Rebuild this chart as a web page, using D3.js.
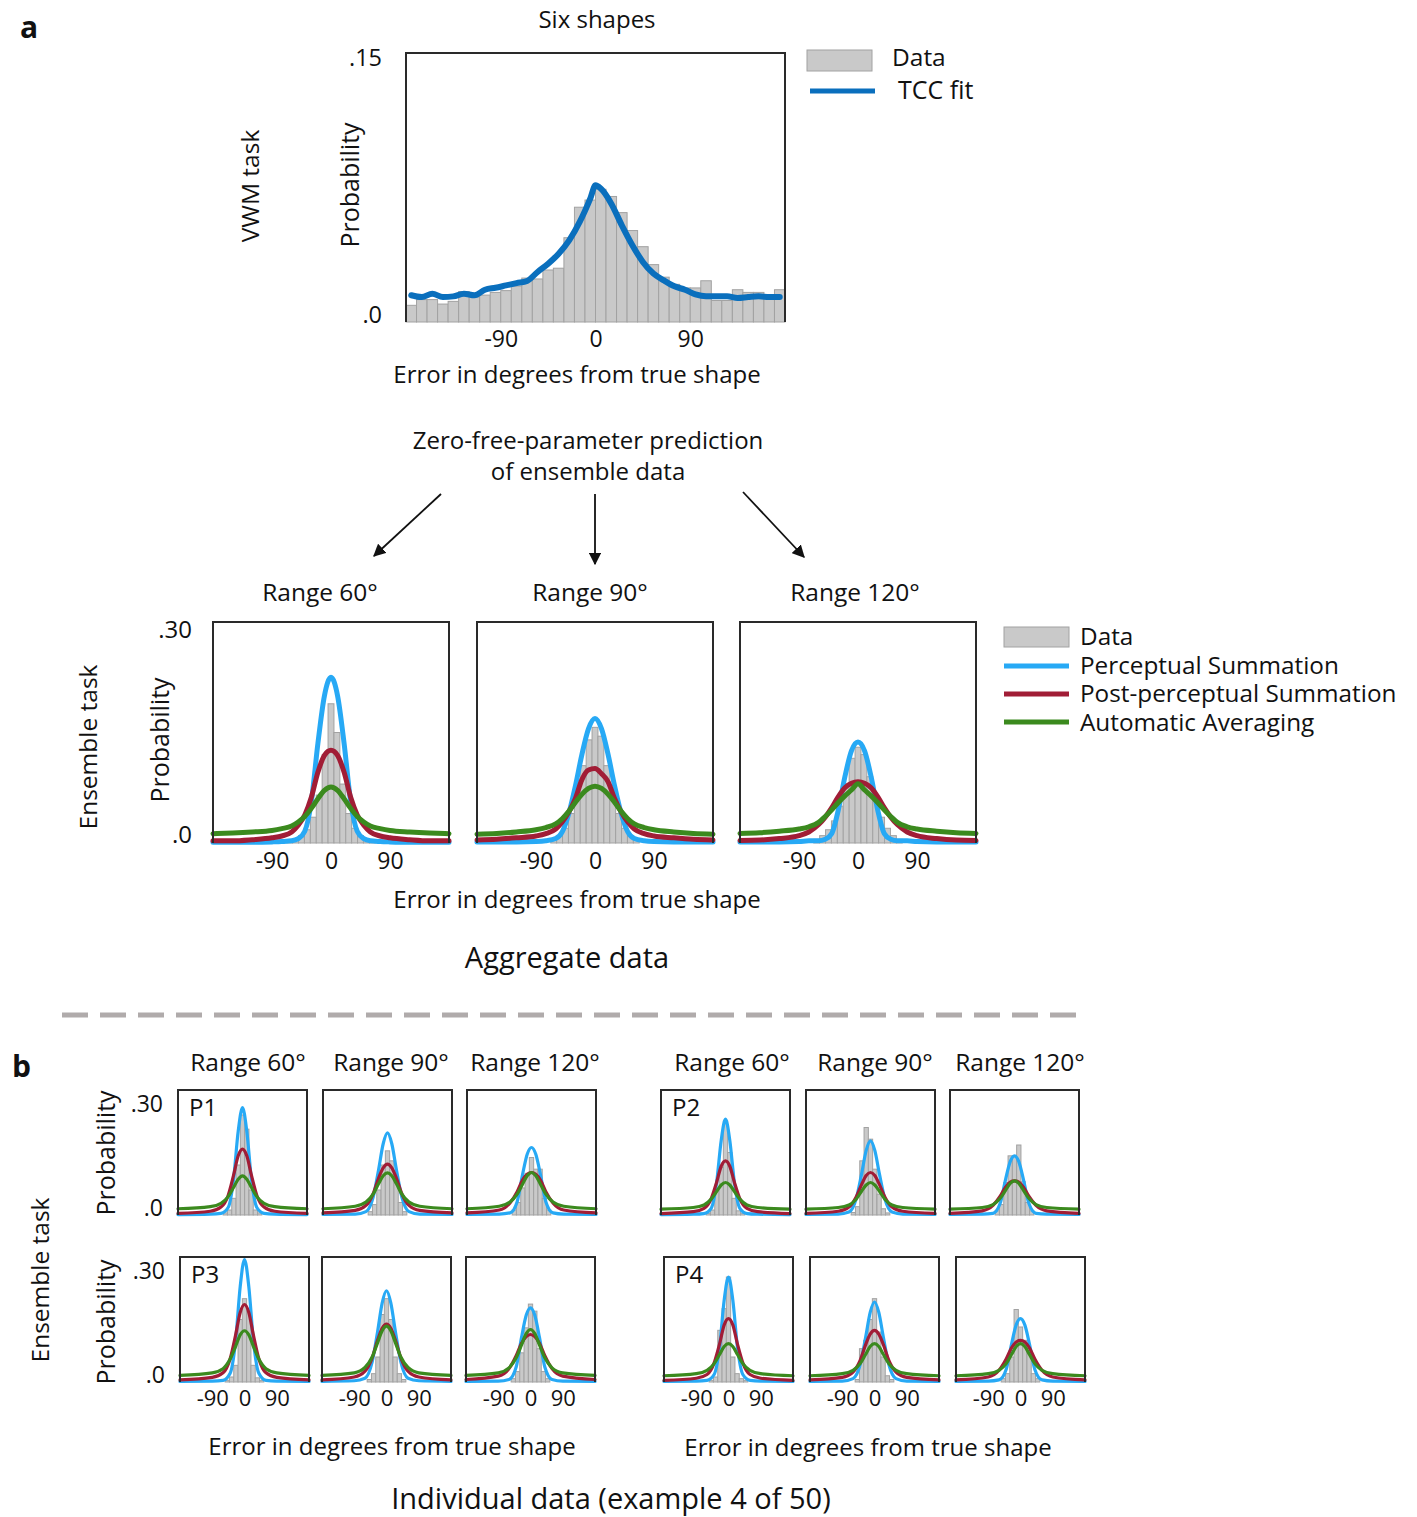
<!DOCTYPE html>
<html><head><meta charset="utf-8">
<script src="https://cdn.jsdelivr.net/npm/d3@7"></script>
<style>
body{margin:0;background:#fff}
text{font-family:"Open Sans",sans-serif;fill:#111}
</style>
</head><body><script>
// ---------------- DATA ----------------
// Panel a, VWM task (Six shapes): 10-degree bins
const vwmBinCenters = [-175,-165,-155,-145,-135,-125,-115,-105,-95,-85,-75,-65,-55,-45,-35,-25,-15,-5,5,15,25,35,45,55,65,75,85,95,105,115,125,135,145,155,165,175];
const vwmData = [0.0093,0.0125,0.0125,0.0100,0.0115,0.0170,0.0140,0.0150,0.0165,0.0175,0.0200,0.0245,0.0240,0.0290,0.0300,0.0470,0.0640,0.0680,0.0740,0.0700,0.0610,0.0510,0.0420,0.0320,0.0250,0.0210,0.0190,0.0190,0.0230,0.0120,0.0120,0.0180,0.0165,0.0165,0.0140,0.0180];
const tccX = [-175,-165,-155,-145,-135,-125,-115,-105,-95,-85,-75,-65,-55,-45,-35,-25,-15,-5,0,5,15,25,35,45,55,65,75,85,95,105,115,125,135,145,155,165,175];
const tccFit = [0.0149,0.0139,0.0158,0.0139,0.0143,0.0158,0.0149,0.0180,0.0191,0.0204,0.0217,0.0229,0.0279,0.0325,0.0381,0.0455,0.0558,0.0688,0.0762,0.0744,0.0660,0.0539,0.0428,0.0335,0.0270,0.0232,0.0199,0.0180,0.0154,0.0143,0.0143,0.0143,0.0134,0.0139,0.0143,0.0139,0.0139];

// Panel a, aggregate ensemble data
const rangeLabels = ["Range 60°","Range 90°","Range 120°"];
const aggBinCenters = [-63,-54,-45,-36,-27,-18,-9,0,9,18,27,36,45,54,63];
const aggData60  = [0.004,0.006,0.010,0.018,0.035,0.065,0.120,0.189,0.150,0.080,0.040,0.020,0.010,0.006,0.004];
const aggData90  = [0.005,0.010,0.020,0.040,0.070,0.105,0.140,0.157,0.145,0.105,0.070,0.040,0.020,0.010,0.005];
const aggData120 = [0.005,0.010,0.018,0.030,0.050,0.080,0.115,0.130,0.120,0.090,0.060,0.035,0.020,0.010,0.005];
const aggCurveX = [-180,-150,-120,-90,-75,-60,-50,-40,-30,-20,-10,0,10,20,30,40,50,60,75,90,120,150,180];
const aggPerc60  = [0.001,0.001,0.001,0.0015,0.002,0.003,0.006,0.016,0.056,0.135,0.200,0.225,0.200,0.135,0.056,0.016,0.006,0.003,0.002,0.0015,0.001,0.001,0.001];
const aggPost60  = [0.003,0.003,0.0045,0.007,0.0095,0.015,0.024,0.038,0.062,0.096,0.119,0.126,0.119,0.096,0.062,0.038,0.024,0.015,0.0095,0.007,0.0045,0.003,0.003];
const aggAuto60  = [0.0127,0.0136,0.015,0.017,0.0195,0.023,0.0285,0.036,0.047,0.060,0.0715,0.076,0.0715,0.060,0.047,0.036,0.0285,0.023,0.0195,0.017,0.015,0.0136,0.0127];
const aggPerc90  = [0.0015,0.0015,0.0015,0.002,0.003,0.006,0.015,0.040,0.077,0.120,0.155,0.169,0.155,0.120,0.077,0.040,0.015,0.006,0.003,0.002,0.0015,0.0015,0.0015];
const aggPost90  = [0.004,0.005,0.007,0.0095,0.0127,0.019,0.0285,0.042,0.060,0.086,0.099,0.101,0.094,0.083,0.060,0.042,0.0285,0.019,0.0127,0.0095,0.007,0.005,0.004];
const aggAuto90  = [0.012,0.013,0.015,0.018,0.021,0.026,0.033,0.043,0.055,0.066,0.074,0.077,0.074,0.066,0.055,0.043,0.033,0.026,0.021,0.018,0.015,0.013,0.012];
const aggPerc120 = [0.0015,0.0015,0.0015,0.002,0.003,0.003,0.005,0.013,0.045,0.090,0.125,0.137,0.125,0.090,0.045,0.013,0.005,0.003,0.003,0.002,0.0015,0.0015,0.0015];
const aggPost120 = [0.0035,0.004,0.006,0.010,0.015,0.025,0.035,0.048,0.063,0.075,0.081,0.083,0.081,0.075,0.063,0.048,0.035,0.025,0.015,0.010,0.006,0.004,0.0035];
const aggAuto120 = [0.013,0.014,0.016,0.019,0.022,0.028,0.036,0.045,0.055,0.064,0.072,0.0805,0.072,0.064,0.055,0.045,0.036,0.028,0.022,0.019,0.016,0.014,0.013];

// Panel b, individual data: [Range60, Range90, Range120]
const participants = ["P1","P2","P3","P4"];
const indBinCenters = [-48,-36,-24,-12,0,12,24,36,48];
const indCurveX = [-180,-90,-60,-40,-25,-12,0,12,25,40,60,90,180];
const p1Data = [[0.005,0.012,0.040,0.120,0.240,0.206,0.060,0.012,0.005],[0.008,0.025,0.060,0.120,0.154,0.130,0.090,0.030,0.008],[0.012,0.030,0.065,0.100,0.138,0.110,0.110,0.040,0.012]];
const p2Data = [[0.004,0.012,0.062,0.114,0.226,0.150,0.040,0.010,0.004],[0.006,0.020,0.130,0.210,0.182,0.110,0.050,0.015,0.005],[0.010,0.025,0.078,0.142,0.142,0.168,0.080,0.030,0.010]];
const p3Data = [[0.004,0.012,0.040,0.150,0.200,0.170,0.040,0.010,0.004],[0.006,0.020,0.060,0.162,0.200,0.150,0.060,0.020,0.006],[0.008,0.025,0.070,0.130,0.187,0.170,0.080,0.025,0.008]];
const p4Data = [[0.004,0.012,0.124,0.176,0.252,0.060,0.020,0.008,0.004],[0.006,0.080,0.100,0.150,0.200,0.120,0.060,0.015,0.006],[0.008,0.020,0.060,0.174,0.132,0.100,0.080,0.020,0.008]];
const p1Perc = [[0.001,0.002,0.004,0.018,0.085,0.201,0.258,0.201,0.085,0.018,0.004,0.002,0.001],[0.0015,0.002,0.008,0.043,0.108,0.171,0.197,0.171,0.108,0.043,0.008,0.002,0.0015],[0.0015,0.002,0.005,0.032,0.097,0.146,0.162,0.146,0.097,0.032,0.005,0.002,0.0015]];
const p1Post = [[0.004,0.009,0.019,0.047,0.095,0.142,0.158,0.142,0.095,0.047,0.019,0.009,0.004],[0.005,0.011,0.023,0.051,0.088,0.113,0.122,0.113,0.088,0.051,0.023,0.011,0.005],[0.005,0.012,0.029,0.056,0.084,0.098,0.102,0.098,0.084,0.056,0.029,0.012,0.005]];
const p1Auto = [[0.015,0.020,0.028,0.044,0.066,0.086,0.094,0.086,0.066,0.044,0.028,0.020,0.015],[0.015,0.021,0.031,0.050,0.075,0.094,0.101,0.094,0.075,0.050,0.031,0.021,0.015],[0.015,0.021,0.031,0.050,0.074,0.094,0.102,0.094,0.074,0.050,0.031,0.021,0.015]];
const p2Perc = [[0.001,0.002,0.0035,0.016,0.076,0.179,0.230,0.179,0.076,0.016,0.0035,0.002,0.001],[0.0015,0.002,0.007,0.039,0.098,0.155,0.178,0.155,0.098,0.039,0.007,0.002,0.0015],[0.0015,0.002,0.004,0.028,0.085,0.128,0.142,0.128,0.085,0.028,0.004,0.002,0.0015]];
const p2Post = [[0.0035,0.008,0.016,0.039,0.078,0.117,0.130,0.117,0.078,0.039,0.016,0.008,0.0035],[0.004,0.009,0.019,0.043,0.073,0.095,0.102,0.095,0.073,0.043,0.019,0.009,0.004],[0.004,0.010,0.023,0.045,0.067,0.079,0.082,0.079,0.067,0.045,0.023,0.010,0.004]];
const p2Auto = [[0.014,0.018,0.024,0.038,0.056,0.072,0.078,0.072,0.056,0.038,0.024,0.018,0.014],[0.014,0.018,0.024,0.038,0.057,0.072,0.078,0.072,0.057,0.038,0.024,0.018,0.014],[0.014,0.018,0.025,0.040,0.059,0.076,0.082,0.076,0.059,0.040,0.025,0.018,0.014]];
const p3Perc = [[0.0015,0.002,0.004,0.021,0.097,0.229,0.294,0.229,0.097,0.021,0.004,0.002,0.0015],[0.0015,0.003,0.009,0.048,0.120,0.190,0.219,0.190,0.120,0.048,0.009,0.003,0.0015],[0.0015,0.002,0.006,0.036,0.107,0.160,0.178,0.160,0.107,0.036,0.006,0.002,0.0015]];
const p3Post = [[0.005,0.011,0.022,0.056,0.112,0.167,0.186,0.167,0.112,0.056,0.022,0.011,0.005],[0.005,0.012,0.026,0.058,0.100,0.129,0.139,0.129,0.100,0.058,0.026,0.012,0.005],[0.006,0.014,0.032,0.063,0.093,0.109,0.114,0.109,0.093,0.063,0.032,0.014,0.006]];
const p3Auto = [[0.016,0.022,0.032,0.055,0.085,0.113,0.123,0.113,0.085,0.055,0.032,0.022,0.016],[0.016,0.022,0.035,0.060,0.094,0.123,0.134,0.123,0.094,0.060,0.035,0.022,0.016],[0.016,0.022,0.034,0.058,0.089,0.116,0.126,0.116,0.089,0.058,0.034,0.022,0.016]];
const p4Perc = [[0.0015,0.002,0.004,0.018,0.083,0.197,0.252,0.197,0.083,0.018,0.004,0.002,0.0015],[0.0015,0.002,0.008,0.042,0.106,0.167,0.192,0.167,0.106,0.042,0.008,0.002,0.0015],[0.0015,0.002,0.005,0.030,0.091,0.137,0.152,0.137,0.091,0.030,0.005,0.002,0.0015]];
const p4Post = [[0.004,0.009,0.018,0.046,0.091,0.137,0.152,0.137,0.091,0.046,0.018,0.009,0.004],[0.005,0.011,0.024,0.052,0.089,0.115,0.124,0.115,0.089,0.052,0.024,0.011,0.005],[0.005,0.012,0.028,0.055,0.082,0.096,0.100,0.096,0.082,0.055,0.028,0.012,0.005]];
const p4Auto = [[0.015,0.020,0.028,0.044,0.066,0.085,0.092,0.085,0.066,0.044,0.028,0.020,0.015],[0.015,0.020,0.028,0.044,0.066,0.085,0.092,0.085,0.066,0.044,0.028,0.020,0.015],[0.015,0.020,0.028,0.044,0.066,0.085,0.092,0.085,0.066,0.044,0.028,0.020,0.015]];

const xTickValues = [-90,0,90];
const legendTop = ["Data","TCC fit"];
const legendAgg = ["Data","Perceptual Summation","Post-perceptual Summation","Automatic Averaging"];

// ---------------- STYLE ----------------
const C = {bar:"#c9c9c9", barStroke:"#a2a2a2", tcc:"#0a6fbd", perc:"#27a9f5", post:"#a11d36", auto:"#3b8a1e", frame:"#2a2a2a"};
const FONT = '"Open Sans",sans-serif';

const W = 1417, H = 1517;
const svg = d3.select("body").append("svg").attr("width", W).attr("height", H);

function txt(x, y, s, size, opts = {}) {
  const t = svg.append("text").attr("x", x).attr("y", y).attr("font-size", size)
    .attr("text-anchor", opts.anchor || "middle").text(s);
  if (opts.bold) t.attr("font-weight", "bold");
  if (opts.rot) t.attr("transform", `rotate(-90,${x},${y})`);
  return t;
}

function panel(cfg) {
  const {x0, y0, w, h, yMax, bins, binW, data, curves, lw, showX, yLabels, tickPad, yPad, fs, yfs, offTop, offBot} = cfg;
  const x = d3.scaleLinear().domain([-180, 180]).range([x0, x0 + w]);
  const y = d3.scaleLinear().domain([0, yMax]).range([y0 + h, y0]);
  const g = svg.append("g");
  g.selectAll("rect.bar").data(bins.map((c, i) => ({c, v: data[i]}))).join("rect")
    .attr("class", "bar")
    .attr("x", d => x(d.c - binW / 2)).attr("width", d => x(d.c + binW / 2) - x(d.c - binW / 2))
    .attr("y", d => y(d.v)).attr("height", d => y(0) - y(d.v))
    .attr("fill", C.bar).attr("stroke", C.barStroke).attr("stroke-width", 1);
  const line = d3.line().x(d => x(d[0])).y(d => y(d[1])).curve(d3.curveMonotoneX);
  curves.forEach(cv => {
    g.append("path").attr("d", line(cv.xs.map((v, i) => [v, cv.ys[i]])))
      .attr("fill", "none").attr("stroke", cv.color).attr("stroke-width", lw)
      .attr("stroke-linecap", "round").attr("stroke-linejoin", "round");
  });
  g.append("path").attr("d", `M${x0},${y0 + h}V${y0}H${x0 + w}V${y0 + h}`)
    .attr("fill", "none").attr("stroke", C.frame).attr("stroke-width", 2);
  if (showX) {
    const ax = g.append("g").attr("transform", `translate(0,${y0 + h})`)
      .call(d3.axisBottom(x).tickValues(xTickValues).tickSize(0).tickPadding(tickPad).tickFormat(d => String(d)));
    ax.select(".domain").remove();
    ax.selectAll("text").attr("font-size", fs).attr("font-family", FONT).attr("fill", "#111");
  }
  if (yLabels) {
    const ay = g.append("g").attr("transform", `translate(${x0},0)`)
      .call(d3.axisLeft(y).tickValues([0, yMax]).tickSize(0).tickPadding(yPad).tickFormat(d => d === 0 ? ".0" : yLabels));
    ay.select(".domain").remove();
    ay.selectAll("text").attr("font-size", yfs).attr("font-family", FONT).attr("fill", "#111")
      .attr("y", d => d === 0 ? -offBot : offTop);
  }
  return {x, y};
}

// ---------------- PANEL a: VWM ----------------
txt(20, 38, "a", 30, {anchor: "start", bold: true});
txt(597, 28, "Six shapes", 24);
txt(259, 186, "VWM task", 24.5, {rot: true});
txt(359, 185, "Probability", 25, {rot: true});
panel({x0: 406, y0: 53, w: 379, h: 269, yMax: 0.15, bins: vwmBinCenters, binW: 10, data: vwmData,
  curves: [{xs: tccX, ys: tccFit, color: C.tcc}], lw: 6, showX: true, yLabels: ".15", tickPad: 9, yPad: 24, fs: 23, yfs: 23.5, offTop: 5, offBot: 7});
txt(577, 383, "Error in degrees from true shape", 24);

// top legend
svg.append("rect").attr("x", 807).attr("y", 50).attr("width", 65).attr("height", 21).attr("fill", C.bar).attr("stroke", C.barStroke);
txt(892, 66, legendTop[0], 24.5, {anchor: "start"});
svg.append("line").attr("x1", 810).attr("x2", 875).attr("y1", 91).attr("y2", 91).attr("stroke", C.tcc).attr("stroke-width", 5);
txt(898, 99, legendTop[1], 25, {anchor: "start"});

// prediction text + arrows
txt(588, 449, "Zero-free-parameter prediction", 24);
txt(588, 480, "of ensemble data", 24);
const defs = svg.append("defs");
defs.append("marker").attr("id", "ah").attr("viewBox", "0 0 10 10").attr("refX", 9).attr("refY", 5)
  .attr("markerWidth", 7).attr("markerHeight", 7).attr("markerUnits", "strokeWidth").attr("orient", "auto")
  .append("path").attr("d", "M0,0L10,5L0,10Z").attr("fill", "#111");
[[441, 494, 374, 556], [595, 494, 595, 564], [743, 492, 804, 557]].forEach(a => {
  svg.append("line").attr("x1", a[0]).attr("y1", a[1]).attr("x2", a[2]).attr("y2", a[3])
    .attr("stroke", "#111").attr("stroke-width", 1.8).attr("marker-end", "url(#ah)");
});

// aggregate panels
const aggX = [213, 477, 740];
const aggData = [aggData60, aggData90, aggData120];
const aggPerc = [aggPerc60, aggPerc90, aggPerc120];
const aggPost = [aggPost60, aggPost90, aggPost120];
const aggAuto = [aggAuto60, aggAuto90, aggAuto120];
const titleX = [320, 590, 855];
aggX.forEach((x0, i) => {
  txt(titleX[i], 601, rangeLabels[i], 24.5);
  panel({x0, y0: 622, w: 236, h: 221, yMax: 0.30, bins: aggBinCenters, binW: 9, data: aggData[i],
    curves: [{xs: aggCurveX, ys: aggPerc[i], color: C.perc}, {xs: aggCurveX, ys: aggPost[i], color: C.post}, {xs: aggCurveX, ys: aggAuto[i], color: C.auto}],
    lw: 5, showX: true, yLabels: i === 0 ? ".30" : null, tickPad: 10, yPad: 21, fs: 23, yfs: 24, offTop: 8, offBot: 8});
});
txt(97, 747, "Ensemble task", 24.5, {rot: true});
txt(169, 740, "Probability", 25, {rot: true});
txt(577, 908, "Error in degrees from true shape", 24);

// aggregate legend
svg.append("rect").attr("x", 1004).attr("y", 627).attr("width", 65).attr("height", 20).attr("fill", C.bar).attr("stroke", C.barStroke);
[[C.perc, 666], [C.post, 694], [C.auto, 722]].forEach(l => {
  svg.append("line").attr("x1", 1004).attr("x2", 1069).attr("y1", l[1]).attr("y2", l[1]).attr("stroke", l[0]).attr("stroke-width", 5);
});
legendAgg.forEach((s, i) => txt(1080, 645 + i * 28.5, s, 24.3, {anchor: "start"}));

txt(567, 968, "Aggregate data", 29);

// dashed separator
svg.append("line").attr("x1", 62).attr("x2", 1087).attr("y1", 1015).attr("y2", 1015)
  .attr("stroke", "#b0abab").attr("stroke-width", 5).attr("stroke-dasharray", "26 12");

// ---------------- PANEL b ----------------
txt(12, 1077, "b", 30, {anchor: "start", bold: true});
const bTitleX = [[248, 391, 535], [732, 875, 1020]];
bTitleX.forEach(row => row.forEach((cx, i) => txt(cx, 1071, rangeLabels[i], 24.5)));

const indSets = [
  {name: participants[0], xs: [178, 323, 467], y0: 1090, data: p1Data, perc: p1Perc, post: p1Post, auto: p1Auto, showX: false},
  {name: participants[1], xs: [661, 806, 950], y0: 1090, data: p2Data, perc: p2Perc, post: p2Post, auto: p2Auto, showX: false},
  {name: participants[2], xs: [180, 322, 466], y0: 1257, data: p3Data, perc: p3Perc, post: p3Post, auto: p3Auto, showX: true},
  {name: participants[3], xs: [664, 810, 956], y0: 1257, data: p4Data, perc: p4Perc, post: p4Post, auto: p4Auto, showX: true}
];
indSets.forEach((p, pi) => {
  p.xs.forEach((x0, i) => {
    panel({x0, y0: p.y0, w: 129, h: 125, yMax: 0.30, bins: indBinCenters, binW: 12, data: p.data[i],
      curves: [{xs: indCurveX, ys: p.perc[i], color: C.perc}, {xs: indCurveX, ys: p.post[i], color: C.post}, {xs: indCurveX, ys: p.auto[i], color: C.auto}],
      lw: 3.2, showX: p.showX, yLabels: (i === 0 && (pi === 0 || pi === 2)) ? ".30" : null, tickPad: 8, yPad: 15, fs: 22, yfs: 23, offTop: 14, offBot: 7});
  });
  txt(p.xs[0] + 11, p.y0 + 26, p.name, 24, {anchor: "start"});
});
txt(115, 1153, "Probability", 25, {rot: true});
txt(115, 1322, "Probability", 25, {rot: true});
txt(49, 1280, "Ensemble task", 24.5, {rot: true});
txt(392, 1455, "Error in degrees from true shape", 24);
txt(868, 1456, "Error in degrees from true shape", 24);
txt(611, 1509, "Individual data (example 4 of 50)", 29);
</script></body></html>
